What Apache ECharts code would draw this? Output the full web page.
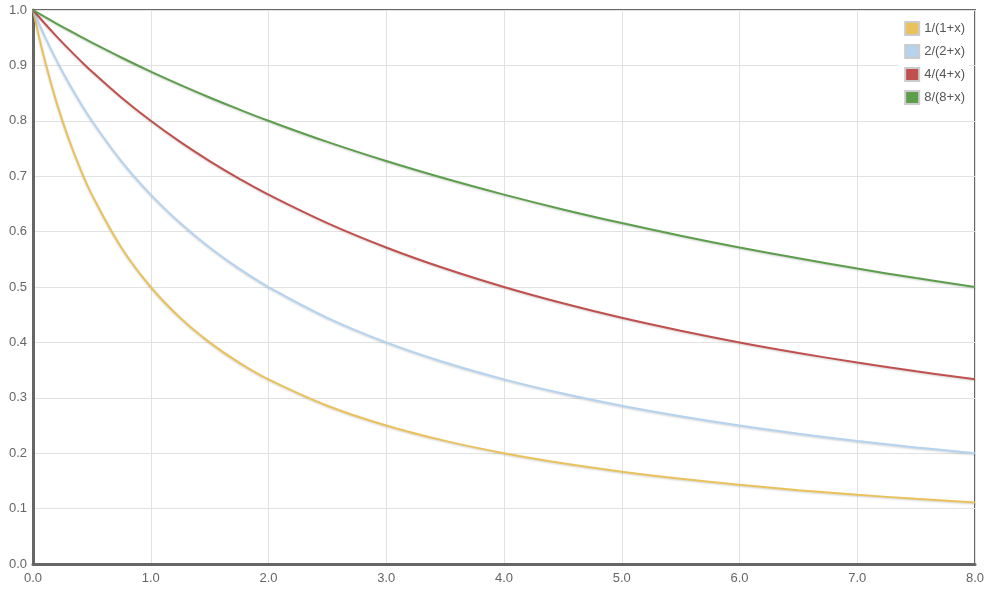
<!DOCTYPE html>
<html>
<head>
<meta charset="utf-8">
<script src="https://cdn.jsdelivr.net/npm/echarts@6/dist/echarts.min.js"></script>
<style>html,body{margin:0;padding:0;background:#fff}#c{width:1000px;height:592px}</style>
</head>
<body>
<div id="c"></div>
<script>
var xs = [0, 0.1, 0.2, 0.3, 0.4, 0.5, 0.75, 1, 1.25, 1.5, 1.75, 2, 2.5, 3, 3.5, 4, 4.5, 5, 5.5, 6, 6.5, 7, 7.5, 8];
var names = ['1/(1+x)', '2/(2+x)', '4/(4+x)', '8/(8+x)'];
var s1 = [1, 0.9091, 0.8333, 0.7692, 0.7143, 0.6667, 0.5714, 0.5, 0.4444, 0.4, 0.3636, 0.3333, 0.2857, 0.25, 0.2222, 0.2, 0.1818, 0.1667, 0.1538, 0.1429, 0.1333, 0.125, 0.1176, 0.1111];
var s2 = [1, 0.9524, 0.9091, 0.8696, 0.8333, 0.8, 0.7273, 0.6667, 0.6154, 0.5714, 0.5333, 0.5, 0.4444, 0.4, 0.3636, 0.3333, 0.3077, 0.2857, 0.2667, 0.25, 0.2353, 0.2222, 0.2105, 0.2];
var s4 = [1, 0.9756, 0.9524, 0.9302, 0.9091, 0.8889, 0.8421, 0.8, 0.7619, 0.7273, 0.6957, 0.6667, 0.6154, 0.5714, 0.5333, 0.5, 0.4706, 0.4444, 0.4211, 0.4, 0.381, 0.3636, 0.3478, 0.3333];
var s8 = [1, 0.9877, 0.9756, 0.9639, 0.9524, 0.9412, 0.9143, 0.8889, 0.8649, 0.8421, 0.8205, 0.8, 0.7619, 0.7273, 0.6957, 0.6667, 0.64, 0.6154, 0.5926, 0.5714, 0.5517, 0.5333, 0.5161, 0.5];
var colors = ['#E9C25C', '#B5D3EF', '#C0504D', '#5C9E4C'];

var all = [s1, s2, s4, s8];
var chart = echarts.init(document.getElementById('c'), null, {renderer: 'canvas'});
var series = all.map(function (arr, i) {
  return {
    name: names[i],
    type: 'line',
    data: arr.map(function (v, j) { return [xs[j], v]; }),
    smooth: 0.4,
    showSymbol: false,
    animation: false,
    lineStyle: {width: 2, color: colors[i], shadowColor: 'rgba(0,0,0,0.18)', shadowBlur: 2, shadowOffsetY: 1},
    itemStyle: {color: colors[i], borderColor: '#ccc', borderWidth: 1}
  };
});
chart.setOption({
  animation: false,
  color: colors,
  grid: {left: 33, right: 25, top: 10, bottom: 28, show: true, borderColor: '#666', borderWidth: 2, backgroundColor: 'transparent'},
  legend: {
    data: names.map(function (n) { return {name: n, icon: 'rect'}; }),
    orient: 'vertical', right: 31, top: 19,
    itemWidth: 14, itemHeight: 13, itemGap: 8,
    backgroundColor: '#fff', padding: [2, 4, 2, 6],
    textStyle: {color: '#555', fontSize: 13, lineHeight: 13, fontFamily: 'Helvetica, Arial, sans-serif'}
  },
  xAxis: {
    type: 'value', min: 0, max: 8, interval: 1,
    axisLine: {show: true, lineStyle: {color: '#666', width: 3}},
    axisTick: {show: false},
    axisLabel: {color: '#666', fontSize: 13, margin: 8, formatter: function (v) { return v.toFixed(1); }},
    splitLine: {show: true, lineStyle: {color: '#e2e2e2', width: 1}}
  },
  yAxis: {
    type: 'value', min: 0, max: 1, interval: 0.1,
    axisLine: {show: true, lineStyle: {color: '#666', width: 3}},
    axisTick: {show: false},
    axisLabel: {color: '#666', fontSize: 13, margin: 6, formatter: function (v) { return v.toFixed(1); }},
    splitLine: {show: true, lineStyle: {color: '#e2e2e2', width: 1}}
  },
  series: series
});
</script>
</body>
</html>
